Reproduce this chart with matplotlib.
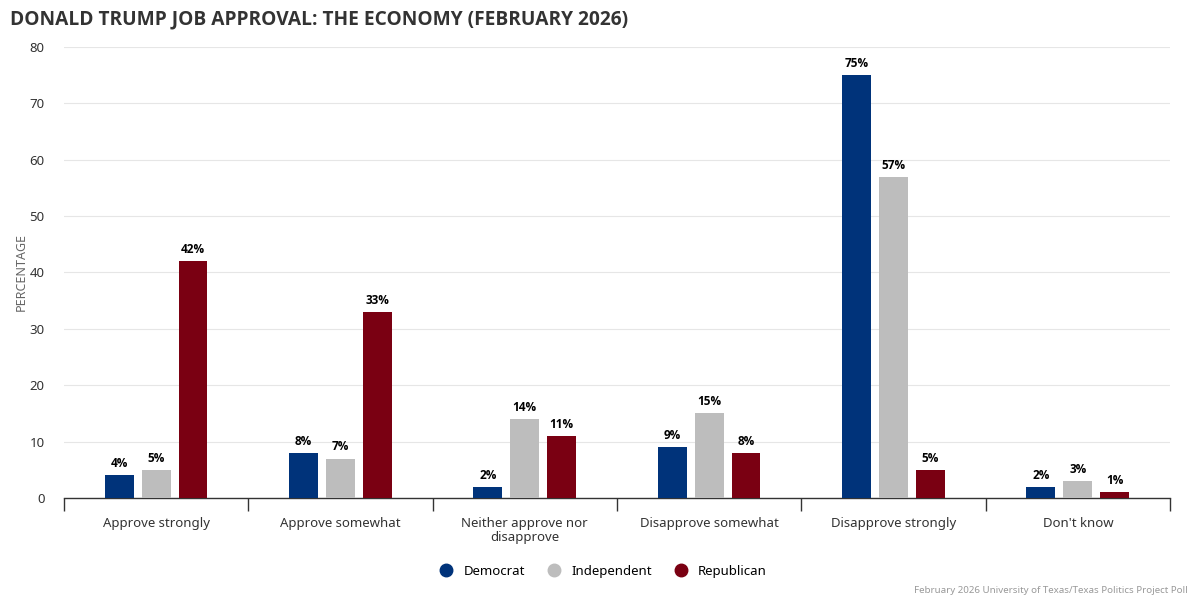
import numpy as np
import matplotlib.pyplot as plt
from matplotlib.lines import Line2D

# ============================================================
# DATA
# ============================================================
categories = ["Approve strongly", "Approve somewhat", "Neither approve nor\ndisapprove",
              "Disapprove somewhat", "Disapprove strongly", "Don't know"]
series_names = ["Democrat", "Independent", "Republican"]
democrat = [4, 8, 2, 9, 75, 2]
independent = [5, 7, 14, 15, 57, 3]
republican = [42, 33, 11, 8, 5, 1]
colors = ["#00337a", "#bdbdbd", "#7a0012"]
y_ticks = [0, 10, 20, 30, 40, 50, 60, 70, 80]

plt.rcParams['font.family'] = ['Noto Sans', 'DejaVu Sans']
BOLD = ['Open Sans', 'DejaVu Sans']

fig = plt.figure(figsize=(12, 6), dpi=100)
ax = fig.add_axes([0.0533, 0.17, 0.9217, 0.7517])

x = np.arange(len(categories))
width = 0.157
offsets = [-0.2, 0.0, 0.2]
for vals, off, col in zip([democrat, independent, republican], offsets, colors):
    bars = ax.bar(x + off, vals, width, color=col, zorder=3)
    for b, v in zip(bars, vals):
        ax.text(b.get_x() + b.get_width() / 2, v + 0.9, f"{v}%", ha="center", va="bottom",
                fontsize=8.5, fontweight="bold", family=BOLD, color="black")

ax.set_xlim(-0.5, len(categories) - 0.5)
ax.set_ylim(0, 80)
ax.set_yticks(y_ticks)
ax.tick_params(axis="y", length=0, labelsize=9.5, labelcolor="#333333", pad=14)
ax.grid(axis="y", color="#e6e6e6", linewidth=0.8, zorder=0)

ax.set_xticks(x)
ax.set_xticklabels(categories, fontsize=9.5, color="#333333", linespacing=1.1)
ax.tick_params(axis="x", length=0, pad=14)
ax.set_xticks(np.arange(-0.5, len(categories)), minor=True)
ax.tick_params(axis="x", which="minor", length=9, color="#333333", width=1)

for s in ["top", "right", "left"]:
    ax.spines[s].set_visible(False)
ax.spines["bottom"].set_color("#333333")
ax.spines["bottom"].set_linewidth(1)

ax.set_ylabel("PERCENTAGE", fontsize=9, color="#666666", labelpad=1)

fig.text(0.008, 0.968, "DONALD TRUMP JOB APPROVAL: THE ECONOMY (FEBRUARY 2026)",
         fontsize=13.8, fontweight="bold", family=BOLD, color="#333333", ha="left", va="center")

handles = [Line2D([0], [0], marker="o", linestyle="", markersize=9,
                  markerfacecolor=c, markeredgecolor=c) for c in colors]
fig.legend(handles, series_names, loc="center", bbox_to_anchor=(0.5, 0.048), ncol=3,
           frameon=False, fontsize=9.5, handletextpad=0.3, columnspacing=1.2)

fig.text(0.99, 0.008, "February 2026 University of Texas/Texas Politics Project Poll",
         fontsize=7, color="#999999", ha="right", va="bottom")

fig.savefig("out.png", dpi=100)
